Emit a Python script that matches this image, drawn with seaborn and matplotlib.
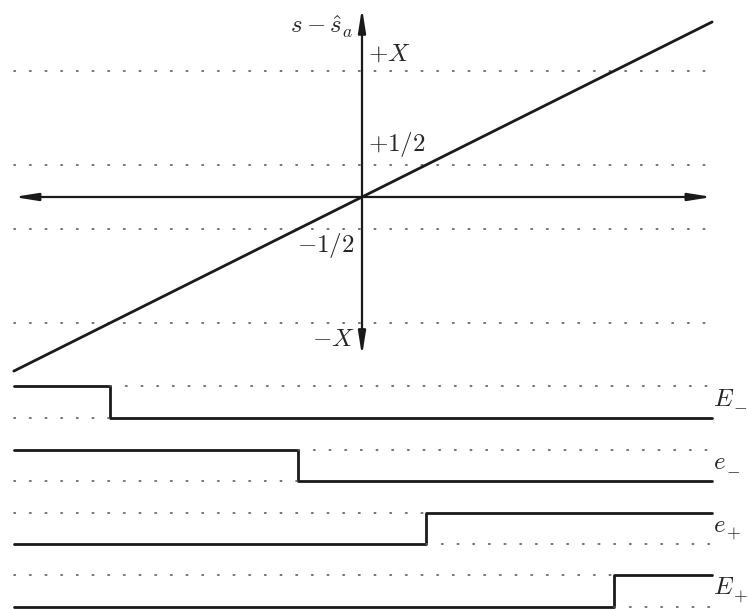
import numpy as np
import pandas as pd
import matplotlib
matplotlib.use("Agg")
import matplotlib.pyplot as plt
import seaborn as sns

sns.set_theme(style="white")
plt.rcParams["mathtext.fontset"] = "cm"
plt.rcParams["font.family"] = ["DejaVu Serif"]

# Quantities of the diagram (in units where 1/2 is one half)
X = 1.97
half = 0.5
slope = 0.5                      # s - s_hat_a = slope * t
t_span = [-5.44, 5.47]           # horizontal extent of the drawing
t_view = (-5.656, 6.031)
s_view = (-6.4375, 3.078)

# Reference levels on the vertical axis
level_values = [X, half, -half, -X]
level_labels = ["$+X$", "$+1/2$", "$-1/2$", "$-X$"]

# Indicator rows below the plot: symbol, sign, threshold on s, direction, low level of row
row_symbol = ["E", "e", "e", "E"]
row_sign = ["\u2212", "\u2212", "+", "+"]
row_thresh = [-X, -half, half, X]
row_below = [True, True, False, False]   # indicator is 1 when s is below / above the threshold
row_base = [-3.45, -4.44, -5.42, -6.40]
row_height = 0.49

fig = plt.figure(figsize=(7.48, 6.09), dpi=100)
ax = fig.add_axes([0, 0, 1, 1])
ax.set_xlim(*t_view)
ax.set_ylim(*s_view)
ax.axis("off")

ink = "#1a1a1a"
dot_kw = dict(color="0.35", lw=1.2, linestyle=(0, (0.8, 8.6)), dash_capstyle="round")
fs = 18

# dotted reference levels
for v in level_values:
    sns.lineplot(x=t_span, y=[v, v], ax=ax, estimator=None, sort=False, **dot_kw)

# axes with arrows
arrow = dict(arrowstyle="<|-|>,head_length=1.0,head_width=0.16", color=ink, lw=1.6,
             shrinkA=0, shrinkB=0, mutation_scale=14)
ax.annotate("", xy=(t_span[1], 0), xytext=(t_span[0], 0), arrowprops=arrow)
ax.annotate("", xy=(0, 2.95), xytext=(0, -2.48), arrowprops=arrow)

# the straight line s - s_hat_a
line_df = pd.DataFrame({"t": t_span, "s": [slope * t for t in t_span]})
sns.lineplot(data=line_df, x="t", y="s", ax=ax, color=ink, lw=2.0, estimator=None, sort=False)

# labels on the vertical axis
ax.text(-0.14, 2.66, r"$s-\hat{s}_a$", ha="right", va="center", fontsize=fs)
ax.text(0.09, 2.24, level_labels[0], ha="left", va="center", fontsize=fs)
ax.text(0.09, 0.82, level_labels[1], ha="left", va="center", fontsize=fs)
ax.text(-0.11, -0.76, level_labels[2], ha="right", va="center", fontsize=fs)
ax.text(-0.11, -2.22, level_labels[3], ha="right", va="center", fontsize=fs)

# indicator rows
for sym, sign, thr, below, base in zip(row_symbol, row_sign, row_thresh, row_below, row_base):
    t_step = thr / slope
    hi, lo = base + row_height, base
    first, second = (hi, lo) if below else (lo, hi)
    step_df = pd.DataFrame({"t": [t_span[0], t_step, t_span[1]],
                            "v": [first, second, second]})
    sns.lineplot(data=step_df, x="t", y="v", ax=ax, color=ink, lw=2.0,
                 estimator=None, sort=False, drawstyle="steps-post")
    # the complementary level shown dotted
    sns.lineplot(x=[t_span[0], t_step], y=[second, second], ax=ax,
                 estimator=None, sort=False, **dot_kw)
    sns.lineplot(x=[t_step, t_span[1]], y=[first, first], ax=ax,
                 estimator=None, sort=False, **dot_kw)
    # row name: italic letter with a subscript sign
    sub_dx = 0.44 if sym == "E" else 0.33
    ax.text(t_span[1] + 0.015, base + 0.19, f"${sym}$", ha="left", va="baseline", fontsize=fs)
    ax.text(t_span[1] + sub_dx, base + 0.17, f"${sign}$", ha="center", va="center",
            fontsize=fs * 0.7)

fig.savefig("out.png", dpi=100)
